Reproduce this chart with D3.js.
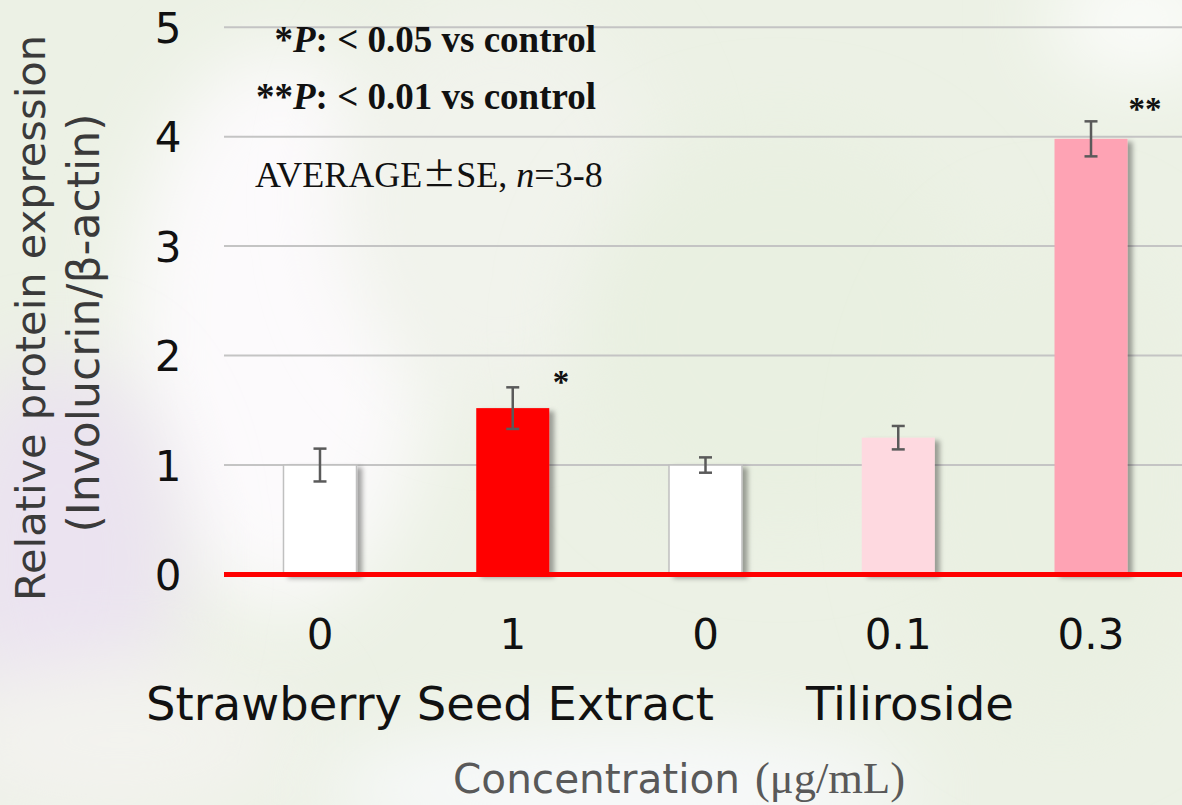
<!DOCTYPE html>
<html>
<head>
<meta charset="utf-8">
<script src="https://cdn.jsdelivr.net/npm/d3@7"></script>
<style>
  html, body { margin: 0; padding: 0; background: #edf2e6; }
  svg { display: block; }
</style>
</head>
<body>
<svg id="chart" width="1182" height="805"></svg>
<script>
// ---- data ----
const concentrations = ["0", "1", "0", "0.1", "0.3"];
const values = [1.0, 1.52, 1.0, 1.25, 3.98];
const errors = [0.15, 0.19, 0.07, 0.107, 0.16];
const barColors = ["#ffffff", "#ff0000", "#ffffff", "#fed9e0", "#fea3b4"];
const significance = ["", "*", "", "", "**"];
const yTicks = [0, 1, 2, 3, 4, 5];
const groupLabels = ["Strawberry Seed Extract", "Tiliroside"];
const notes = ["*P: < 0.05 vs control", "**P: < 0.01 vs control"];

const W = 1182, H = 805;
const SANS = "'DejaVu Sans', Verdana, sans-serif";
const SERIF = "'Liberation Serif', 'Times New Roman', serif";
const svg = d3.select("#chart");
const defs = svg.append("defs");

function fit(sel, target) {
  const s = +sel.attr("font-size");
  const w = sel.node().getComputedTextLength();
  if (w > 0) sel.attr("font-size", (s * target / w).toFixed(2));
  return sel;
}

// background blobs
const blur = defs.append("filter").attr("id", "bgblur")
  .attr("x", "-50%").attr("y", "-50%").attr("width", "200%").attr("height", "200%");
blur.append("feGaussianBlur").attr("stdDeviation", 40);

const shadow = defs.append("filter").attr("id", "shadow")
  .attr("x", "-20%").attr("y", "-10%").attr("width", "150%").attr("height", "130%");
shadow.append("feDropShadow").attr("dx", 5).attr("dy", 3).attr("stdDeviation", 2.5)
  .attr("flood-color", "#000").attr("flood-opacity", 0.35);

const bg = svg.append("g");
bg.append("rect").attr("width", W).attr("height", H).attr("fill", "#ecf1e5");
const blobs = [
  {cx: 280, cy: 330, rx: 150, ry: 280, c: "#fcfafc"},
  {cx: 60,  cy: 560, rx: 120, ry: 200, c: "#ebe3f0"},
  {cx: 120, cy: 740, rx: 180, ry: 80,  c: "#f3f3ee"},
  {cx: 620, cy: 790, rx: 300, ry: 60,  c: "#f8f9fb"},
  {cx: 1140, cy: 20, rx: 90, ry: 60,  c: "#fbfcfa"},
  {cx: 500, cy: 200, rx: 160, ry: 200, c: "#f1f3ec"},
  {cx: 780, cy: 330, rx: 200, ry: 200, c: "#e9f0e1"},
  {cx: 1060, cy: 480, rx: 150, ry: 250, c: "#eaf0e2"}
];
bg.selectAll("ellipse").data(blobs).join("ellipse")
  .attr("cx", d => d.cx).attr("cy", d => d.cy)
  .attr("rx", d => d.rx).attr("ry", d => d.ry)
  .attr("fill", d => d.c).attr("filter", "url(#bgblur)");

// scales
const x = d3.scaleBand().domain(d3.range(values.length))
  .range([223.6, 1187.4]).paddingInner(0.6213).paddingOuter(0.3107);
const y = d3.scaleLinear().domain([0, 5]).range([574.5, 27.2]);

// gridlines
svg.append("g").selectAll("line").data(yTicks.filter(t => t > 0)).join("line")
  .attr("x1", 224).attr("x2", W)
  .attr("y1", d => y(d)).attr("y2", d => y(d))
  .attr("stroke", "#c4c4c4").attr("stroke-width", 2);

// y axis tick labels
const yAxis = d3.axisLeft(y).tickValues(yTicks).tickSize(0).tickPadding(0).tickFormat(d3.format("d"));
const yg = svg.append("g").attr("transform", "translate(190,0)").call(yAxis);
yg.select(".domain").remove();
yg.selectAll("text")
  .attr("font-family", SANS)
  .attr("font-size", 42).attr("fill", "#111")
  .attr("text-anchor", "middle").attr("x", -22).attr("dy", "0.36em");

// bars
svg.append("g").selectAll("rect").data(values).join("rect")
  .attr("x", (d, i) => x(i)).attr("width", x.bandwidth())
  .attr("y", d => y(d)).attr("height", d => y(0) - y(d))
  .attr("fill", (d, i) => barColors[i])
  .attr("stroke", (d, i) => barColors[i] === "#ffffff" ? "#c0c0c0" : "none")
  .attr("stroke-width", 1.5)
  .attr("filter", "url(#shadow)");

// error bars
const eg = svg.append("g").attr("stroke", "#5a5a5a").attr("stroke-width", 2.5);
values.forEach((v, i) => {
  const cx = x(i) + x.bandwidth() / 2;
  const top = y(v + errors[i]), bot = y(v - errors[i]);
  eg.append("line").attr("x1", cx).attr("x2", cx).attr("y1", top).attr("y2", bot);
  eg.append("line").attr("x1", cx - 6.5).attr("x2", cx + 6.5).attr("y1", top).attr("y2", top);
  eg.append("line").attr("x1", cx - 6.5).attr("x2", cx + 6.5).attr("y1", bot).attr("y2", bot);
});

// red baseline
svg.append("line").attr("x1", 224).attr("x2", W)
  .attr("y1", y(0)).attr("y2", y(0))
  .attr("stroke", "#ff0000").attr("stroke-width", 5);

// significance marks
svg.append("g").selectAll("text").data(significance).join("text")
  .attr("x", (d, i) => i === 1 ? 561 : 1145)
  .attr("y", (d, i) => i === 1 ? 393 : 120)
  .attr("text-anchor", "middle")
  .attr("font-family", SERIF).attr("font-weight", "bold")
  .attr("font-size", 33).attr("fill", "#111")
  .text(d => d);

// x tick labels
const xAxis = d3.axisBottom(x).tickSize(0).tickPadding(0).tickFormat(i => concentrations[i]);
const xg = svg.append("g").attr("transform", `translate(0,${649})`).call(xAxis);
xg.select(".domain").remove();
xg.selectAll("text")
  .attr("font-family", SANS)
  .attr("font-size", 42).attr("fill", "#111").attr("dy", 0).attr("y", 0);

// group labels
const glX = [146, 806], glW = [568, 208];
svg.append("g").selectAll("text").data(groupLabels).join("text")
  .attr("x", (d, i) => glX[i]).attr("y", 720)
  .attr("font-family", SANS)
  .attr("font-size", 46).attr("fill", "#111")
  .text(d => d)
  .each(function(d, i) { fit(d3.select(this), glW[i]); });

// x axis title
const xt1 = svg.append("text").attr("x", 453).attr("y", 793).attr("fill", "#595959")
  .attr("font-family", SANS).attr("font-size", 40).text("Concentration");
fit(xt1, 287);
svg.append("text").attr("x", 755).attr("y", 793).attr("fill", "#595959")
  .attr("font-family", SERIF).attr("font-size", 44).text("(μg/mL)")
  .call(s => fit(s, 150));

// y axis title
const yt = svg.append("g").attr("font-family", SANS)
  .attr("fill", "#3a3a3a").attr("text-anchor", "middle");
const yl1 = yt.append("text").attr("font-size", 40)
  .attr("transform", "translate(45,318) rotate(-90)").text("Relative protein expression");
fit(yl1, 566);
const yl2 = yt.append("text").attr("font-size", 40)
  .attr("transform", "translate(99,323) rotate(-90)").text("(Involucrin/β-actin)");
fit(yl2, 419);

// notes
const ng = svg.append("g").attr("font-family", SERIF)
  .attr("font-size", 37).attr("font-weight", "bold").attr("fill", "#111")
  .attr("text-anchor", "end");
notes.forEach((n, k) => {
  const stars = n.match(/^\*+/)[0];
  const rest = n.slice(stars.length + 1);
  const t = ng.append("text").attr("x", 596).attr("y", k === 0 ? 52 : 109);
  t.append("tspan").text(stars);
  t.append("tspan").attr("font-style", "italic").text("P");
  t.append("tspan").text(rest);
});
const avg = svg.append("text").attr("x", 255).attr("y", 187)
  .attr("font-family", SERIF)
  .attr("font-size", 36).attr("fill", "#111");
avg.append("tspan").text("AVERAGE");
avg.append("tspan").attr("font-family", "'Noto Sans CJK JP', sans-serif").attr("font-size", 34).text("±");
avg.append("tspan").text("SE, ");
avg.append("tspan").attr("font-style", "italic").text("n");
avg.append("tspan").text("=3-8");
</script>
</body>
</html>
